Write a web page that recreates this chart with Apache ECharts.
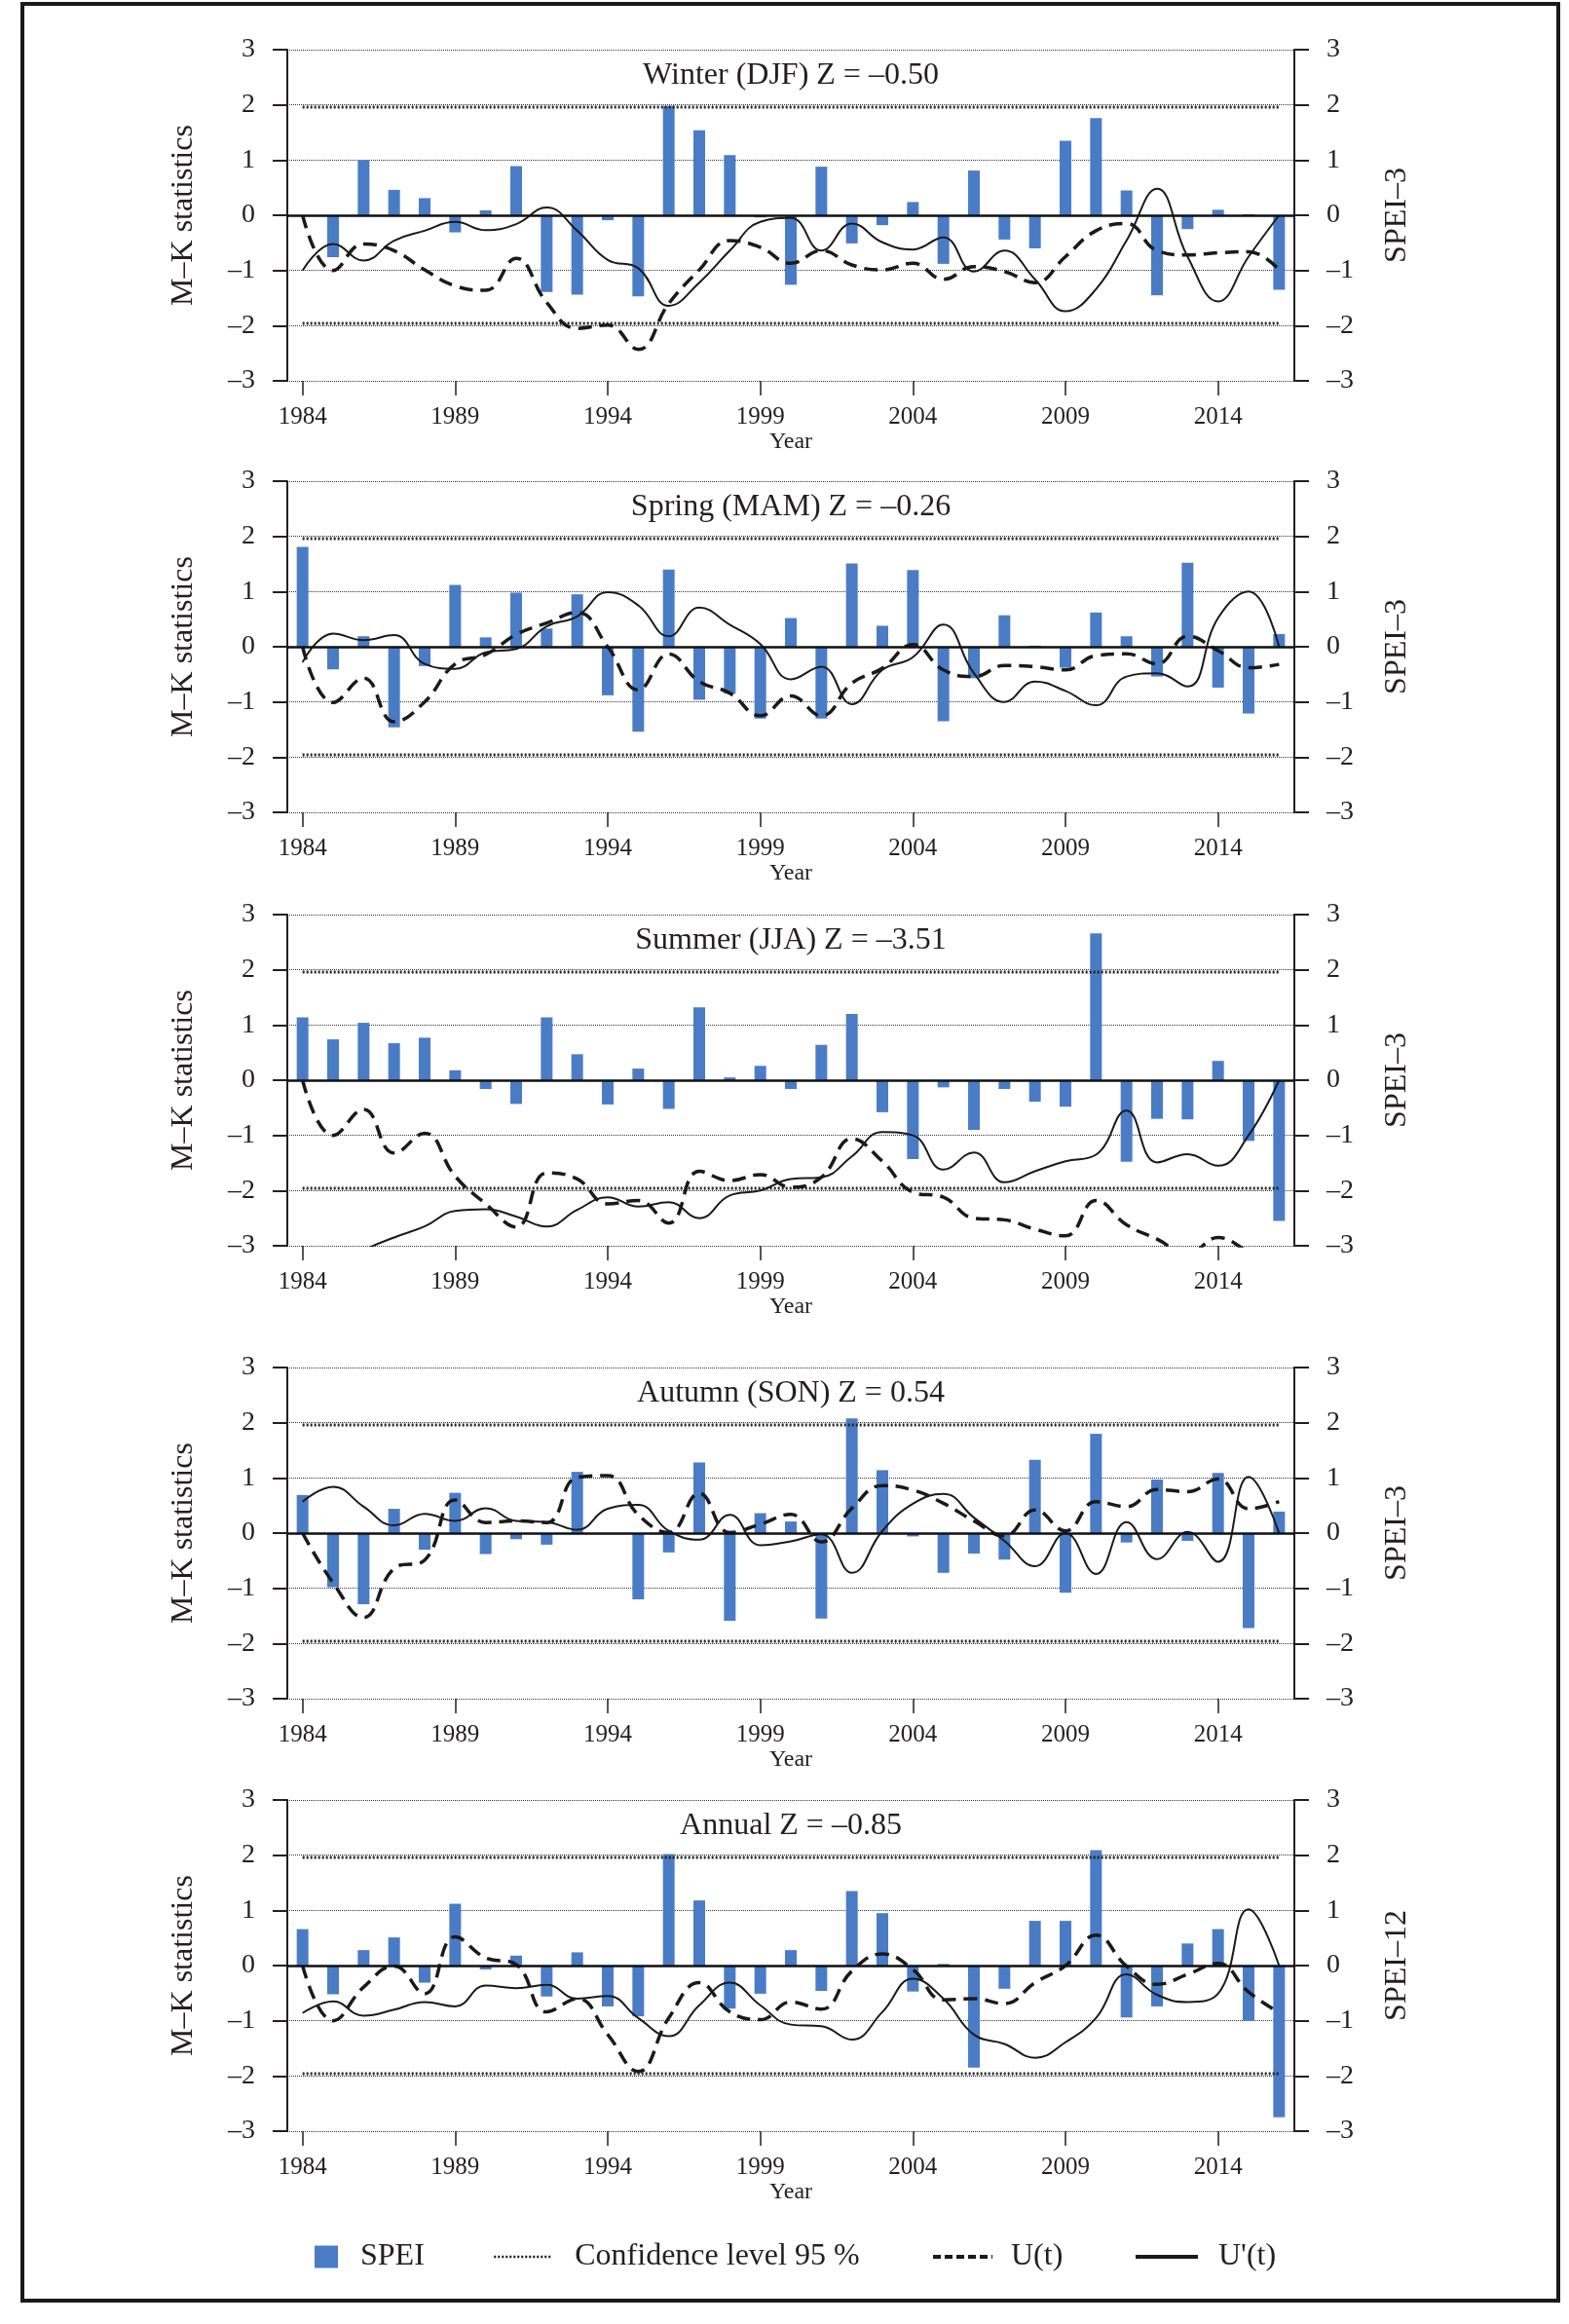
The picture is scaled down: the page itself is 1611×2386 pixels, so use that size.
<!DOCTYPE html>
<html>
<head>
<meta charset="utf-8">
<title>M-K statistics and SPEI</title>
<script src="https://cdn.jsdelivr.net/npm/echarts@6/dist/echarts.min.js"></script>
<style>
html, body { margin: 0; padding: 0; background: #fff; }
#chart { width: 1611px; height: 2386px; }
</style>
</head>
<body>
<div id="chart"></div>
<script>
// categories
const years = ['1984','1985','1986','1987','1988','1989','1990','1991','1992','1993','1994',
  '1995','1996','1997','1998','1999','2000','2001','2002','2003','2004','2005','2006','2007',
  '2008','2009','2010','2011','2012','2013','2014','2015','2016']

// panel titles and right axis names
const titles = ['Winter (DJF) Z = –0.50', 'Spring (MAM) Z = –0.26', 'Summer (JJA) Z = –3.51',
  'Autumn (SON) Z = 0.54', 'Annual Z = –0.85']
const speiNames = ['SPEI–3', 'SPEI–3', 'SPEI–3', 'SPEI–3', 'SPEI–12']

// 95 % confidence level
const conf = 1.96

// winter
const winterSpei = [0, -0.76, 1.0, 0.46, 0.31, -0.31, 0.09, 0.89, -1.39, -1.44, -0.09, -1.47, 1.98, 1.54, 1.09, -0.04,
  -1.26, 0.88, -0.51, -0.18, 0.24, -0.88, 0.81, -0.44, -0.6, 1.35, 1.76, 0.45, -1.45, -0.25, 0.1, 0.02, -1.35]
const winterU = [0, -1.0, -0.52, -0.64, -0.99, -1.28, -1.36, -0.78, -1.58, -2.05, -1.99, -2.43, -1.6, -0.99, -0.46, -0.58,
  -0.87, -0.64, -0.9, -0.99, -0.87, -1.16, -0.93, -1.02, -1.22, -0.75, -0.28, -0.15, -0.64, -0.72, -0.68, -0.66, -0.99]
const winterUb = [-1.0, -0.52, -0.82, -0.46, -0.28, -0.12, -0.27, -0.16, 0.14, -0.28, -0.81, -0.96, -1.64, -1.22, -0.64, -0.12,
  -0.05, -0.64, -0.15, -0.49, -0.62, -0.4, -1.02, -0.64, -1.16, -1.74, -1.34, -0.46, 0.48, -0.75, -1.56, -0.75, 0]

// spring
const springSpei = [1.81, -0.41, 0.19, -1.46, -0.35, 1.12, 0.17, 0.98, 0.33, 0.95, -0.88, -1.54, 1.4, -0.96, -0.85, -1.3,
  0.52, -1.3, 1.51, 0.38, 1.39, -1.35, -0.57, 0.57, 0.02, -0.38, 0.62, 0.19, -0.54, 1.52, -0.74, -1.21, 0.23]
const springU = [0, -1.01, -0.57, -1.36, -1.0, -0.31, -0.14, 0.22, 0.43, 0.62, 0, -0.78, -0.13, -0.63, -0.84, -1.25,
  -0.89, -1.25, -0.66, -0.39, 0.04, -0.42, -0.54, -0.34, -0.36, -0.42, -0.16, -0.13, -0.31, 0.19, -0.07, -0.38, -0.32]
const springUb = [-0.28, 0.24, 0.12, 0.21, -0.31, -0.4, -0.1, -0.04, 0.37, 0.55, 0.99, 0.75, 0.19, 0.71, 0.4, 0.05,
  -0.59, -0.36, -1.04, -0.42, -0.19, 0.4, -0.48, -1.0, -0.63, -0.8, -1.06, -0.54, -0.48, -0.72, 0.52, 1.0, 0]

// summer
const summerSpei = [1.14, 0.74, 1.04, 0.67, 0.77, 0.18, -0.16, -0.43, 1.14, 0.47, -0.44, 0.21, -0.52, 1.32, 0.05, 0.26,
  -0.16, 0.64, 1.2, -0.58, -1.43, -0.13, -0.9, -0.16, -0.39, -0.48, 2.66, -1.48, -0.7, -0.71, 0.35, -1.1, -2.55]
const summerU = [0, -1.0, -0.53, -1.32, -0.96, -1.74, -2.24, -2.66, -1.68, -1.79, -2.24, -2.18, -2.59, -1.65, -1.82, -1.71,
  -1.94, -1.76, -1.06, -1.47, -2.03, -2.12, -2.5, -2.53, -2.7, -2.82, -2.18, -2.62, -2.88, -3.15, -2.85, -3.1, -3.3]
const summerUb = [-3.8, -3.4, -3.08, -2.85, -2.65, -2.37, -2.34, -2.47, -2.65, -2.35, -2.12, -2.29, -2.21, -2.5, -2.09, -2.0,
  -1.79, -1.76, -1.38, -0.94, -1.0, -1.62, -1.31, -1.85, -1.65, -1.47, -1.35, -0.55, -1.49, -1.34, -1.55, -1.0, 0]

// autumn
const autumnSpei = [0.69, -0.98, -1.29, 0.44, -0.3, 0.73, -0.38, -0.11, -0.21, 1.11, 0, -1.2, -0.35, 1.28, -1.59, 0.36,
  0.21, -1.55, 2.08, 1.14, -0.06, -0.72, -0.37, -0.48, 1.33, -1.08, 1.8, -0.17, 0.97, -0.14, 1.09, -1.72, 0.39]
const autumnU = [0, -0.9, -1.53, -0.64, -0.49, 0.6, 0.19, 0.22, 0.19, 1.01, 1.04, 0.33, 0.01, 0.72, 0.01, 0.16,
  0.34, -0.16, 0.45, 0.86, 0.78, 0.54, 0.22, -0.05, 0.42, 0.04, 0.57, 0.48, 0.79, 0.75, 0.98, 0.44, 0.57]
const autumnUb = [0.57, 0.84, 0.48, 0.14, 0.35, 0.22, 0.45, 0.22, 0.2, 0.06, 0.44, 0.51, 0.04, -0.12, 0.33, -0.22,
  -0.15, -0.02, -0.72, 0.04, 0.53, 0.71, 0.28, -0.14, -0.6, 0, -0.74, 0.2, -0.47, 0.02, -0.52, 1.02, 0]

// annual
const annualSpei = [0.66, -0.52, 0.28, 0.51, -0.31, 1.12, -0.07, 0.18, -0.56, 0.24, -0.74, -0.92, 2.02, 1.18, -0.78, -0.51,
  0.28, -0.46, 1.35, 0.95, -0.47, 0.03, -1.85, -0.42, 0.81, 0.81, 2.09, -0.94, -0.74, 0.4, 0.66, -1.0, -2.75]
const annualU = [0, -1.0, -0.39, -0.01, -0.51, 0.52, 0.14, 0.02, -0.84, -0.6, -1.25, -1.92, -0.95, -0.31, -0.84, -0.98,
  -0.66, -0.79, -0.1, 0.21, -0.07, -0.62, -0.6, -0.69, -0.31, 0, 0.55, -0.01, -0.34, -0.16, 0.04, -0.48, -0.85]
const annualUb = [-0.86, -0.65, -0.91, -0.8, -0.66, -0.74, -0.36, -0.41, -0.35, -0.6, -0.55, -0.95, -1.28, -0.72, -0.31, -0.72,
  -1.07, -1.1, -1.34, -0.84, -0.24, -0.6, -1.25, -1.42, -1.67, -1.39, -0.95, -0.16, -0.53, -0.66, -0.51, 1.02, 0]

const panels = [
  { spei: winterSpei, u: winterU, ub: winterUb },
  { spei: springSpei, u: springU, ub: springUb },
  { spei: summerSpei, u: summerU, ub: summerUb },
  { spei: autumnSpei, u: autumnU, ub: autumnUb },
  { spei: annualSpei, u: annualU, ub: annualUb }
]

// layout
const gridTops = [51, 494, 939, 1404, 1848]
const gridLeft = 295
const gridWidth = 1034
const gridHeight = 340
const font = '"Liberation Serif", "DejaVu Serif", serif'
const ink = '#231f20'
const lineInk = '#1a1a1a'
const barColor = '#4a7cc6'

const fmt = v => (v < 0 ? '–' + Math.abs(v) : String(v))

const grid = [], xAxis = [], yAxis = [], series = [], graphic = []

panels.forEach((p, i) => {
  grid.push({ left: gridLeft, top: gridTops[i], width: gridWidth, height: gridHeight })
  xAxis.push({
    type: 'category', gridIndex: i, data: years, boundaryGap: true,
    axisLine: { show: false, onZero: false },
    axisTick: { show: true, alignWithLabel: true, interval: 4, length: 15, lineStyle: { color: ink, width: 1.5 } },
    axisLabel: { interval: 4, margin: 25, fontSize: 25, fontFamily: font, color: ink },
    splitLine: { show: false },
    name: 'Year', nameLocation: 'middle', nameGap: 51,
    nameTextStyle: { fontSize: 24, fontFamily: font, color: ink }
  })
  const yBase = {
    type: 'value', gridIndex: i, min: -3, max: 3, interval: 1,
    axisLine: { show: true, lineStyle: { color: ink, width: 2 } },
    axisTick: { show: true, length: 15, lineStyle: { color: ink, width: 2 } },
    axisLabel: { margin: 33, fontSize: 28, fontFamily: font, color: ink, formatter: fmt },
    nameLocation: 'middle', nameGap: 90, nameRotate: 90,
    nameTextStyle: { fontSize: 32, fontFamily: font, color: ink }
  }
  yAxis.push(Object.assign({}, yBase, {
    position: 'left', name: 'M–K statistics',
    splitLine: { show: true, lineStyle: { type: 'dotted', color: '#333', width: 1 } }
  }))
  yAxis.push(Object.assign({}, yBase, {
    position: 'right', name: speiNames[i], splitLine: { show: false }
  }))

  const ax = { xAxisIndex: i, yAxisIndex: i * 2 }
  series.push(Object.assign({
    name: 'SPEI', type: 'bar', data: p.spei, barWidth: 12,
    itemStyle: { color: barColor },
    markLine: {
      silent: true, symbol: 'none', label: { show: false },
      lineStyle: { color: '#111', width: 2.5, type: 'solid' },
      data: [{ yAxis: 0 }]
    }
  }, ax))
  ;[conf, -conf].forEach(c => {
    series.push(Object.assign({
      name: 'Confidence level 95 %', type: 'line', data: years.map(() => c),
      symbol: 'none', itemStyle: { color: lineInk },
      lineStyle: { color: '#222', width: 3, type: [2, 2] }
    }, ax))
  })
  series.push(Object.assign({
    name: 'U(t)', type: 'line', data: p.u, smooth: 0.45, symbol: 'none',
    itemStyle: { color: lineInk },
    lineStyle: { color: lineInk, width: 3.5, type: [14, 8] }
  }, ax))
  series.push(Object.assign({
    name: "U'(t)", type: 'line', data: p.ub, smooth: 0.45, symbol: 'none',
    itemStyle: { color: lineInk },
    lineStyle: { color: lineInk, width: 2 }
  }, ax))

  graphic.push({
    type: 'text', x: gridLeft + gridWidth / 2, y: gridTops[i] + 27,
    style: { text: titles[i], font: '32px ' + font, fill: ink, align: 'center', verticalAlign: 'middle' }
  })
})

// outer frame
graphic.push({
  type: 'rect', shape: { x: 23, y: 4, width: 1577, height: 2358 },
  style: { fill: 'none', stroke: lineInk, lineWidth: 4 }
})

const legendBase = {
  orient: 'horizontal', top: 2296, selectedMode: false,
  itemStyle: { opacity: 0 },
  textStyle: { fontSize: 32, fontFamily: font, color: ink }
}
const legendText = pad => Object.assign({}, legendBase.textStyle, { padding: [0, 0, 0, pad] })
const legend = [
  Object.assign({}, legendBase, { left: 318, data: ['SPEI'], icon: 'rect', itemWidth: 24, itemHeight: 23,
    itemStyle: { color: barColor }, textStyle: legendText(18) }),
  Object.assign({}, legendBase, { left: 501, data: ['Confidence level 95 %'], itemWidth: 59, itemHeight: 14,
    lineStyle: { width: 2.5, type: [2, 2], color: lineInk }, textStyle: legendText(19) }),
  Object.assign({}, legendBase, { left: 951, data: ['U(t)'], itemWidth: 61, itemHeight: 14,
    lineStyle: { width: 4, type: [8, 4], color: lineInk }, textStyle: legendText(14) }),
  Object.assign({}, legendBase, { left: 1159, data: ["U'(t)"], itemWidth: 64, itemHeight: 14,
    lineStyle: { width: 4, color: lineInk }, textStyle: legendText(16) })
]

const chart = echarts.init(document.getElementById('chart'))
chart.setOption({
  animation: false,
  backgroundColor: '#fff',
  grid, xAxis, yAxis, series, legend, graphic
})
</script>
</body>
</html>
